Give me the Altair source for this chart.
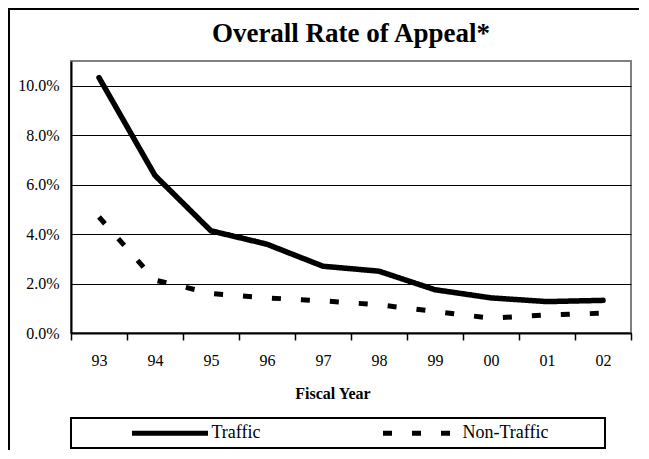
import altair as alt
import pandas as pd

years = ["93", "94", "95", "96", "97", "98", "99", "00", "01", "02"]
traffic = [10.33, 6.37, 4.13, 3.59, 2.70, 2.50, 1.75, 1.42, 1.27, 1.32]
non_traffic = [4.69, 2.14, 1.60, 1.42, 1.30, 1.14, 0.87, 0.60, 0.73, 0.80]
series_names = ["Traffic", "Non-Traffic"]
y_ticks = [0.0, 0.02, 0.04, 0.06, 0.08, 0.10]

rows = []
for i, yr in enumerate(years):
    rows.append({"year": yr, "series": "Traffic", "rate": traffic[i] / 100})
    rows.append({"year": yr, "series": "Non-Traffic", "rate": non_traffic[i] / 100})
df = pd.DataFrame(rows)

FONT = "Liberation Serif"

x_enc = alt.X(
    "year:N",
    sort=years,
    scale=alt.Scale(type="band", paddingInner=0, paddingOuter=0),
    axis=alt.Axis(
        title="Fiscal Year",
        labelAngle=0,
        tickBand="extent",
        tickSize=7,
        tickWidth=1.5,
        tickColor="black",
        domainColor="black",
        domainWidth=2,
        labelFont=FONT,
        labelFontSize=16,
        labelColor="black",
        labelPadding=12,
        titleFont=FONT,
        titleFontSize=16,
        titleFontWeight="bold",
        titleColor="black",
        titleX=261.5,
        titleY=60,
        titleBaseline="middle",
        titleAlign="center",
        grid=False,
    ),
)

y_enc = alt.Y(
    "rate:Q",
    scale=alt.Scale(domain=[0, 0.11], nice=False),
    axis=alt.Axis(
        values=y_ticks,
        format=".1%",
        title=None,
        ticks=False,
        labelPadding=12,
        labelFont=FONT,
        labelFontSize=16,
        labelColor="black",
        domainColor="black",
        domainWidth=2,
        gridColor="black",
        gridWidth=1,
        gridOpacity=1,
    ),
)

dash_enc = alt.StrokeDash(
    "series:N",
    scale=alt.Scale(domain=series_names, range=[[1, 0], [9, 20]]),
    legend=alt.Legend(
        title=None,
        orient="none",
        legendX=58.5,
        legendY=331.5,
        direction="horizontal",
        columns=2,
        symbolType="stroke",
        symbolSize=5776,
        symbolStrokeWidth=5,
        symbolStrokeColor="black",
        labelFont=FONT,
        labelFontSize=18,
        labelColor="black",
        labelOffset=1,
        columnPadding=112,
        padding=0,
    ),
)

base = alt.Chart(df)

traffic_line = base.transform_filter(alt.datum.series == "Traffic").mark_line(
    color="black", strokeWidth=5.5, strokeCap="round", strokeJoin="round"
).encode(x=x_enc, y=y_enc, strokeDash=dash_enc)

non_line = base.transform_filter(alt.datum.series == "Non-Traffic").mark_line(
    color="black", strokeWidth=5, strokeCap="butt", strokeJoin="round"
).encode(x=x_enc, y=y_enc, strokeDash=dash_enc)

one = pd.DataFrame({"k": [0]})

legend_box = alt.Chart(one).mark_rect(
    fillOpacity=0, stroke="black", strokeWidth=2
).encode(x=alt.value(0), x2=alt.value(534), y=alt.value(357), y2=alt.value(387))

border_left = alt.Chart(one).mark_rule(color="black", strokeWidth=2).encode(
    x=alt.value(-62), y=alt.value(-52), y2=alt.value(389)
)
border_top = alt.Chart(one).mark_rule(color="black", strokeWidth=2).encode(
    y=alt.value(-52), x=alt.value(-63), x2=alt.value(568)
)

chart = alt.layer(
    border_left, border_top, legend_box, traffic_line, non_line
).properties(
    width=560,
    height=272,
    title=alt.TitleParams(
        "Overall Rate of Appeal*",
        font=FONT,
        fontSize=27,
        fontWeight="bold",
        color="black",
        anchor="middle",
        frame="group",
        baseline="alphabetic",
        offset=18,
        dy=79,
    ),
    autosize=alt.AutoSizeParams(type="none"),
    padding={"left": 63, "top": 53, "right": 8, "bottom": 117},
).configure_view(stroke="#808080", strokeWidth=2)

chart.save("out.html", embed_options={"renderer": "svg", "actions": False})
